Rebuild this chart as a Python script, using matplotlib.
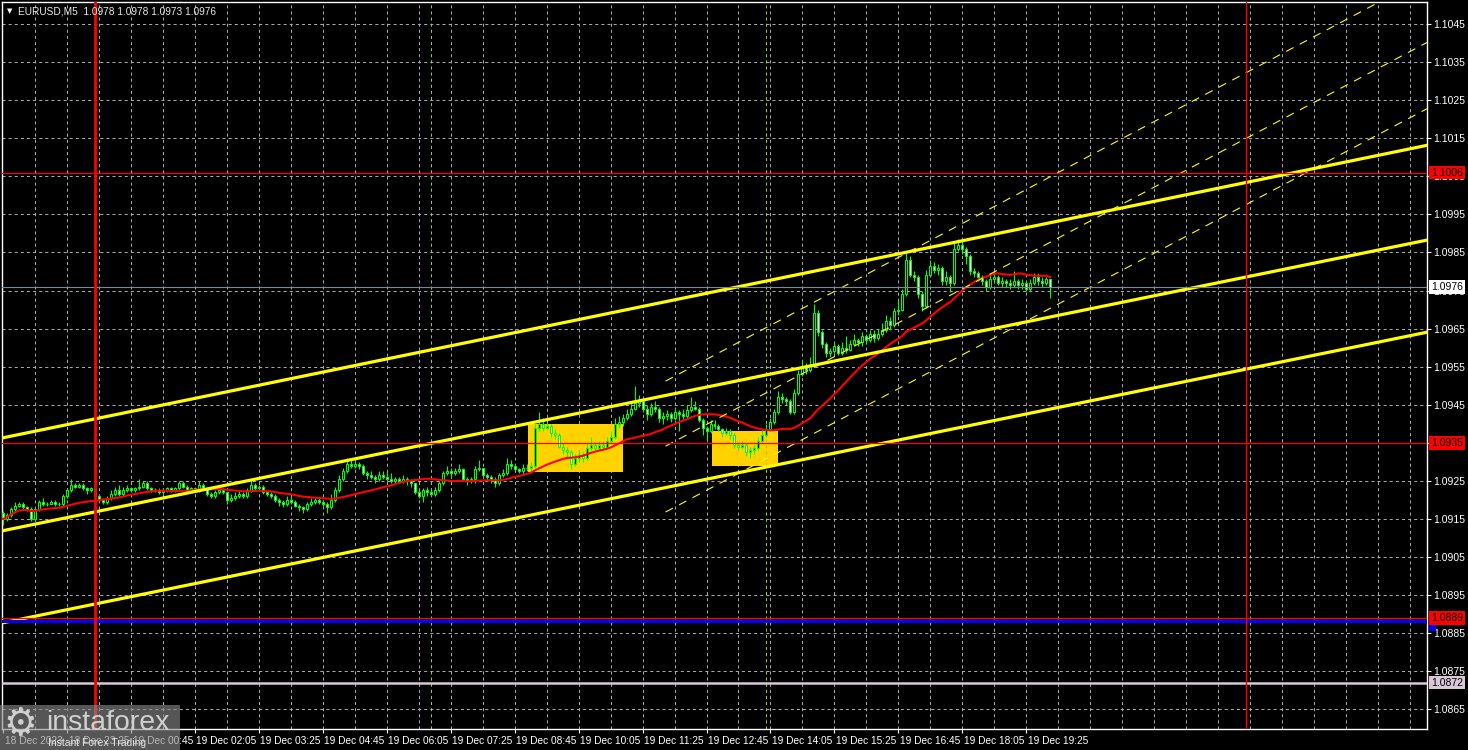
import numpy as np
import pandas as pd
import matplotlib
matplotlib.use('Agg')
import matplotlib.pyplot as plt
from matplotlib.patches import Rectangle
from matplotlib import transforms

plt.rcParams['font.family'] = ['Liberation Sans', 'DejaVu Sans']
plt.rcParams['lines.scale_dashes'] = False

########  data (prices in pips above 1.0900, bar 0 = 19 Dec 00:00, M5)  ########
BASE = 1.0900
PIP = 0.0001
first_bar = -23          # 18 Dec 22:05
first_open = 16.5

closes = [15, 16, 17.5, 18.5, 19, 18, 17.5, 15, 17.5, 19.5, 19, 19, 19.5, 19, 19, 21, 22.5, 24, 23.5, 24, 23, 22.5, 23,
          21, 20, 19.5, 20.5, 21.5, 22.5, 21.5, 22.5, 23, 22.5, 23, 23.5, 24.5, 23, 22.5, 22.5, 22, 22.5, 23, 22.5,
          23, 24.5, 23.5, 22.5, 23, 22.5, 24, 23, 21.5, 21, 22, 22.5, 22, 20, 20.5, 21, 21.5, 21, 22.5, 24, 23, 23.5, 22, 21.5, 21,
          20, 19.5, 19, 20, 19.5, 18.5, 18, 17.5, 19, 19.5, 20, 19.5, 19, 18, 20, 22.5, 25.5, 27.5, 29.5, 29,
          29.5, 29, 27, 26.5, 26, 25.5, 26.5, 26, 25.5, 25, 25.5, 25, 25.5, 25, 24.5, 22, 21, 22.5, 22, 21.5,
          22.5, 24.5, 27, 27.5, 27, 27.5, 28, 25.5, 25, 25.5, 28, 28.5, 26.5, 26, 25.5, 24.5, 26.5, 27, 29.5, 29, 28, 27.5, 28.5, 28.5,
          29, 39, 40, 39, 39.5, 37.5, 37, 34, 33, 32.5, 29.5, 31, 31.5, 31, 33.5, 34.5, 33.5, 34.5, 34, 35.5,
          36.5, 40, 40.5, 41.5, 42.5, 44, 45.5, 46, 44, 42.5, 44.5, 44, 41.5, 42, 42.5, 41.5, 43, 42.5, 42, 43.5,
          44.5, 44, 41, 39, 38, 40, 39.5, 38.5, 37.5, 38, 37, 34.5, 34, 34.5, 32.5, 33, 33.5, 35.5, 37, 38.5,
          40.5, 43, 47, 46.5, 46, 43, 48,
          53, 55, 54, 55.5, 69, 64, 61, 58.5, 59, 60.5, 58.5, 60, 59.5, 61, 62, 61.5, 63, 62, 63.5, 62.5,
          63.5, 64.5, 67, 66, 69.5, 70, 74, 83, 79, 78.5, 74, 71, 79, 81.5, 80.5, 81, 77.5, 78.5, 77, 86,
          87, 86, 84, 80, 79.5, 78.5, 77.5, 76, 78, 78.5, 77, 77.5, 77, 76.5, 77.5, 76.5, 77, 75.5, 77, 78.5,
          77.5, 77, 78, 76]

highs = [17, 16.5, 18, 19.5, 19.5, 19.5, 18.5, 18, 18, 20, 20.5, 19.5, 20, 20, 19.5, 21.5, 23, 25.5, 24.5, 24.5, 24.5, 23.5, 23.5,
         23.5, 21.5, 20.5, 21, 22.5, 23.5, 24, 23.5, 24, 23.5, 23.5, 25.5, 25, 25, 23.5, 23, 23, 23, 23.5, 23.5,
         23.5, 25, 25, 24, 23.5, 23.5, 25, 24.5, 23.5, 22, 22.5, 24, 23, 22, 21.5, 22, 22.5, 22, 23, 25.5, 24.5, 24, 24, 22.5, 22,
         21.5, 20.5, 20, 21, 21, 20, 19, 18.5, 19.5, 20.5, 20.5, 20.5, 20, 19.5, 21.5, 23.5, 26.5, 28.5, 31, 30.5,
         31, 30, 29.5, 27.5, 27.5, 26.5, 27.5, 27.5, 27.5, 27, 26, 26, 26.5, 26, 25.5, 24.5, 22.5, 23, 23.5, 22.5,
         23.5, 25, 27.5, 29, 28.5, 28.5, 29.5, 28.5, 26, 26, 29, 30.5, 28.5, 27, 26.5, 26, 27, 28, 31, 30.5, 29.5, 28.5, 29.5, 29.5,
         30, 40, 43, 41.5, 40.5, 40, 38.5, 37.5, 35, 34, 33, 32, 33, 32.5, 35, 36.5, 35, 35.5, 35.5, 36.5,
         38, 41.5, 42, 42.5, 44, 45.5, 50, 47.5, 46.5, 45, 45.5, 46, 44.5, 43, 43.5, 43, 44.5, 43.5, 44, 45,
         47, 46, 44.5, 41.5, 39.5, 41, 41, 40, 39, 39, 38.5, 37.5, 35, 35.5, 35, 34, 34.5, 36.5, 38.5, 40,
         41.5, 44, 48.5, 48, 47, 46.5, 49,
         54, 56.5, 56, 57.5, 71.5, 70, 64.5, 61.5, 60, 61.5, 61, 61.5, 63, 62, 63.5, 62.5, 64, 63.5, 64.5, 64.5,
         65, 66.5, 68.5, 68, 70.5, 72.5, 75.5, 85, 84, 80, 79, 75, 80.5, 83, 82.5, 82, 81.5, 80, 79, 87.5,
         88.5, 88.5, 86.5, 84.5, 81, 80, 79, 78, 79.5, 80, 79, 78.5, 78, 78, 80, 78, 78, 77.5, 78, 79.5,
         79.5, 78.5, 78.5, 78]

lows = [13.5, 14.5, 15.5, 17, 18, 17.5, 17, 14.5, 14.5, 17, 18.5, 18.5, 19, 18.5, 18.5, 18.5, 20.5, 22, 23, 23, 22.5, 21.5, 22,
        20.5, 19.5, 19, 19, 20, 21, 21, 21, 22, 22, 22, 22.5, 23, 22.5, 22, 22, 21.5, 21.5, 22, 22,
        22, 22.5, 23, 22, 22, 22, 22, 22.5, 21, 20.5, 20.5, 21.5, 21.5, 19, 19.5, 20, 20.5, 20.5, 20.5, 22, 22.5, 22.5, 21.5, 21, 20.5,
        19.5, 18.5, 18, 18.5, 19, 18, 17, 16.5, 17, 18.5, 19, 19, 18.5, 16.5, 17.5, 19.5, 22, 25, 27, 28.5,
        28.5, 28, 26.5, 25.5, 25.5, 24.5, 25, 25.5, 25, 24.5, 24.5, 24.5, 24.5, 24, 23.5, 21.5, 20.5, 19.5, 21, 21,
        21, 22, 24, 26.5, 26, 26.5, 27, 25, 24, 24.5, 24.5, 27.5, 26, 25, 24.5, 23.5, 24, 26, 26.5, 28, 27.5, 27, 26.5, 27.5,
        27.5, 28.5, 38, 38, 38.5, 36.5, 36, 33.5, 32, 31, 28, 29, 30, 30, 30.5, 33, 32.5, 33, 33, 33.5,
        35, 36, 39, 39.5, 41, 42, 43.5, 44.5, 43, 41, 42, 43, 40.5, 40, 41, 40.5, 41, 38, 41, 41.5,
        43, 43.5, 40.5, 37, 35.5, 37.5, 38.5, 38, 36.5, 37, 36, 33.5, 33, 33.5, 31.5, 31, 32, 33, 35, 36.5,
        38, 40, 42.5, 45.5, 45, 42.5, 42.5,
        47.5, 52.5, 53, 53.5, 55, 63, 60, 57.5, 57.5, 58.5, 58, 58, 58.5, 59, 60.5, 60.5, 60.5, 61, 61.5, 61.5,
        62, 63, 64, 64.5, 65.5, 68.5, 69.5, 73.5, 78.5, 77.5, 73, 69.5, 70.5, 78.5, 79.5, 79, 76.5, 76.5, 74.5, 76.5,
        85.5, 84.5, 82, 79, 78.5, 77.5, 76.5, 75, 75.5, 77, 76.5, 76, 76, 75.5, 76, 75.5, 75.5, 75, 75, 76.5,
        76.5, 76, 76.5, 73]

ma_period = 24

# axis labels
price_ticks = [1.0865, 1.0875, 1.0885, 1.0895, 1.0905, 1.0915, 1.0925, 1.0935, 1.0945, 1.0955,
               1.0965, 1.0975, 1.0985, 1.0995, 1.1005, 1.1015, 1.1025, 1.1035, 1.1045]
time_tick_bars = [-23, -7, 9, 25, 41, 57, 73, 89, 105, 121, 137, 153, 169, 185, 201, 217, 233]
time_tick_labels = ['18 Dec 2023', '18 Dec 23:25', '19 Dec 00:45', '19 Dec 02:05', '19 Dec 03:25',
                    '19 Dec 04:45', '19 Dec 06:05', '19 Dec 07:25', '19 Dec 08:45', '19 Dec 10:05',
                    '19 Dec 11:25', '19 Dec 12:45', '19 Dec 14:05', '19 Dec 15:25', '19 Dec 16:45',
                    '19 Dec 18:05', '19 Dec 19:25']

# chart objects
red_levels = [1.1006, 1.0935, 1.0889]
blue_level = 1.08882
support_level = 1.0872
bid = 1.0976
day_lines = [0, 288]
day_widths = [2.0, 1.0]
sep_lines = [84, 168]
chan_x = [-23.5, 333.5]
chan_upper = [1.09362, 1.10132]
chan_mid = [1.09118, 1.09883]
chan_lower = [1.08876, 1.09641]
dash_x = [142.75, 333.5]
dash_upper = [1.09512, 1.10576]
dash_mid = [1.09341, 1.10403]
dash_lower = [1.09168, 1.10229]
boxes = [(108.25, 132.0, 1.09273, 1.09399), (154.25, 171.0, 1.09289, 1.09381)]

########  build  ########
c = BASE + np.array(closes) * PIP
h = BASE + np.array(highs) * PIP
l = BASE + np.array(lows) * PIP
o = np.concatenate([[BASE + first_open * PIP], c[:-1]])
h = np.maximum(h, np.maximum(o, c))
l = np.minimum(l, np.minimum(o, c))
x = np.arange(first_bar, first_bar + len(c))
ma = pd.Series(c).rolling(ma_period, min_periods=1).mean().values

W, H = 1468, 750
fig = plt.figure(figsize=(W / 100, H / 100), dpi=100, facecolor='black')
ax = fig.add_axes([2 / W, 21 / H, 1425 / W, 727 / H], facecolor='black')
ax.set_xlim(-23.25, 333.25)
ax.set_ylim(1.08598, 1.10508)

# grid
for p in price_ticks:
    ax.axhline(p, color='#a8a8a8', lw=0.72, ls=(0, (2.2, 2.2)), zorder=0.5)
for b in range(first_bar + 8, 334, 8):
    ax.axvline(b, color='#a8a8a8', lw=0.72, ls=(0, (2.2, 2.2)), zorder=0.5)

# rectangles
for x0, x1, y0, y1 in boxes:
    ax.add_patch(Rectangle((x0, y0), x1 - x0, y1 - y0, facecolor='#FFD200', edgecolor='none', zorder=1))

# candles
up = c >= o
ax.vlines(x, l, h, color='#00FF00', lw=0.8, zorder=3)
body_lo = np.minimum(o, c)
body_h = np.abs(c - o)
ax.bar(x[up], body_h[up], bottom=body_lo[up], width=0.5, color='black', edgecolor='#00FF00', lw=0.75, zorder=3.1)
ax.bar(x[~up], body_h[~up], bottom=body_lo[~up], width=0.5, color='white', edgecolor='#00FF00', lw=0.75, zorder=3.1)

# moving average
ax.plot(x, ma, color='#FF0000', lw=1.5, zorder=4)

# channels
for ys in (chan_upper, chan_mid, chan_lower):
    ax.plot(chan_x, ys, color='#FFFF00', lw=2.3, zorder=5, solid_capstyle='butt')
for ys in (dash_upper, dash_mid, dash_lower):
    ax.plot(dash_x, ys, color='#FFFF00', lw=0.8, ls=(0, (6, 5)), zorder=5)

# levels
for p in red_levels:
    ax.axhline(p, color='#FF0000', lw=0.9, zorder=6)
ax.axhline(blue_level, color='#0000FF', lw=2.2, zorder=5.9)
ax.axhline(support_level, color='#D8C8D8', lw=1.8, zorder=6)
ax.axhline(bid, color='#778899', lw=0.8, zorder=6)
for b, w in zip(day_lines, day_widths):
    ax.axvline(b, color='#FF0000', lw=w, zorder=6)
for b in sep_lines:
    ax.axvline(b, color='#9ACD32', lw=0.75, ls=(0, (2.2, 2.2)), zorder=2)

# axes / ticks
for s in ('left', 'top', 'right', 'bottom'):
    ax.spines[s].set_color('white')
    ax.spines[s].set_linewidth(1)
ax.yaxis.tick_right()
ax.set_yticks(price_ticks)
ax.set_yticklabels(['%.4f' % p for p in price_ticks])
ax.tick_params(axis='y', colors='white', labelcolor='white', labelsize=7.5, length=3, pad=1.5, width=0.8)
ax.set_xticks(time_tick_bars)
ax.set_xticklabels([''] * len(time_tick_bars))
ax.tick_params(axis='x', colors='white', length=3, width=0.8)
tx = transforms.blended_transform_factory(ax.transData, ax.transAxes)
for b, s in zip(time_tick_bars, time_tick_labels):
    ax.text(b + 0.4, -0.0165, s, transform=tx, color='white', fontsize=7.3, ha='left', va='center', clip_on=False)

# price labels on the right scale
ty = transforms.blended_transform_factory(ax.transAxes, ax.transData)
def price_label(p, txt, bg, fg):
    ax.text(1.0029, p, txt, transform=ty, color=fg, fontsize=7.5, ha='left', va='center', clip_on=False, zorder=10,
            bbox=dict(boxstyle='square,pad=0.18', facecolor=bg, edgecolor='none'))

price_label(1.1006, '1.1006', '#FF0000', 'black')
price_label(1.0935, '1.0935', '#FF0000', 'black')
price_label(1.08874, ' ', '#0000FF', 'black')
price_label(1.0889, '1.0889', '#FF0000', 'black')
price_label(support_level, '1.0872', '#D8C8D8', 'black')
price_label(bid, '1.0976', 'white', 'black')

# header
fig.text(7 / W, 1 - 11 / H, '\u25BC', color='white', fontsize=5, family='DejaVu Sans', va='center')
fig.text(18 / W, 1 - 11 / H, 'EURUSD,M5  1.0978 1.0978 1.0973 1.0976', color='#e8e8e8', fontsize=7.3, va='center')

# watermark
fig.patches.append(Rectangle((0, 0), 180 / W, 45 / H, transform=fig.transFigure, facecolor='#8c8c8c',
                             alpha=0.62, edgecolor='none', zorder=20))
fig.text(3 / W, 25 / H, '\u2699', color='#d0d0d0', fontsize=27, family='DejaVu Sans', va='center', zorder=21)
fig.text(46 / W, 27 / H, 'instaforex', color='#d0d0d0', fontsize=20.5, va='center', zorder=21)
fig.text(48 / W, 7 / H, 'Instant Forex Trading', color='#e6e6e6', fontsize=7.5, va='center', zorder=21)

fig.savefig('out.png', dpi=100, facecolor='black')
